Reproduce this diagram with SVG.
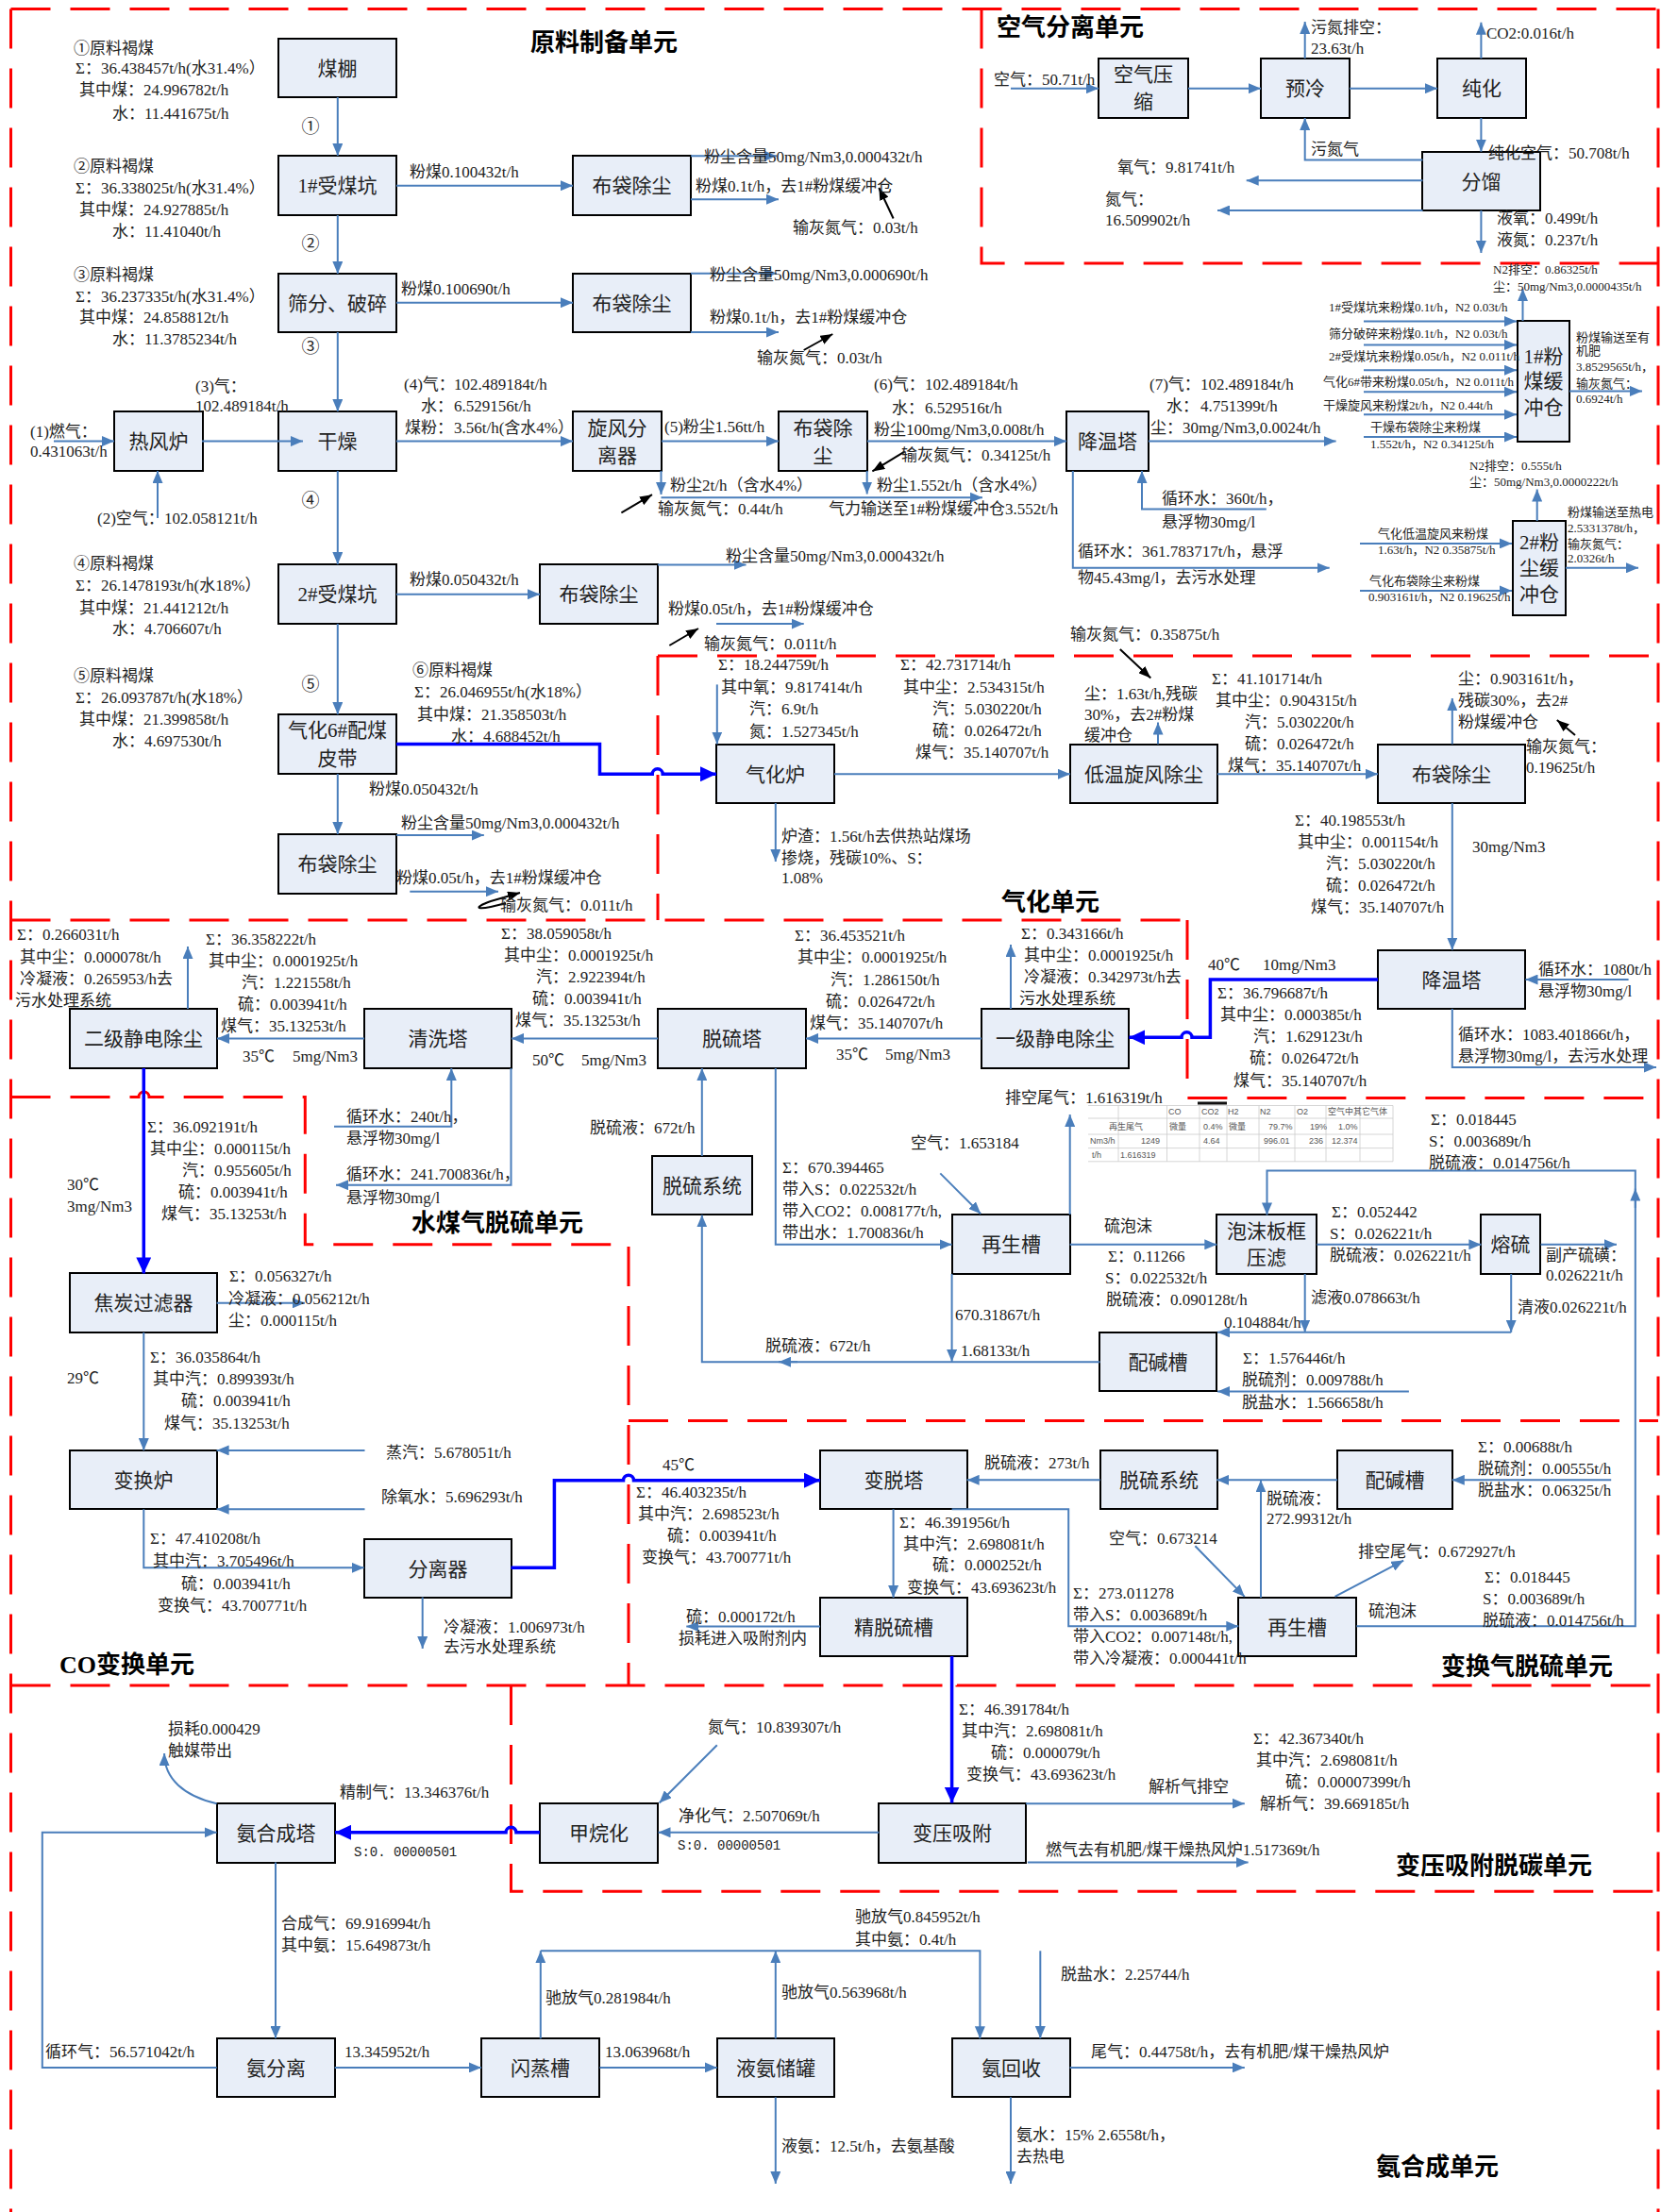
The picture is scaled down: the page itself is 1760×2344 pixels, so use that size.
<svg xmlns="http://www.w3.org/2000/svg" width="1760" height="2344" viewBox="0 0 1760 2344">
<style>
.t{font-family:"Liberation Serif","Noto Sans CJK SC",serif;font-size:17px;fill:#222}
.s{font-family:"Liberation Serif","Noto Sans CJK SC",serif;font-size:13px;fill:#222}
.m{font-family:"Liberation Mono","Noto Sans CJK SC",monospace;font-size:14px;fill:#222}
.bt{font-family:"Liberation Serif","Noto Sans CJK SC",serif;font-size:21px;fill:#222;text-anchor:middle}
.ttl{font-family:"Liberation Serif","Noto Sans CJK SC",serif;font-size:26px;font-weight:bold;fill:#000}
.c{font-family:"Noto Sans CJK SC",sans-serif;font-size:19px;fill:#222;text-anchor:middle}
.tb{font-family:"Liberation Sans","Noto Sans CJK SC",sans-serif;font-size:9px;fill:#555}
.box{fill:#E8EEF8;stroke:#000;stroke-width:2}
.ln{fill:none;stroke:#4A7EBB;stroke-width:2;marker-end:url(#a)}
.pl{fill:none;stroke:#4A7EBB;stroke-width:2}
.thk{fill:none;stroke:#0000FF;stroke-width:3.5;marker-end:url(#ab)}
.blk{fill:none;stroke:#000;stroke-width:2;marker-end:url(#ak)}
.red{fill:none;stroke:#FF0000;stroke-width:3;stroke-dasharray:42 21}
.grid{stroke:#ccc;stroke-width:0.8;fill:none}
</style>
<defs>
<marker id="a" markerUnits="userSpaceOnUse" markerWidth="13" markerHeight="11" refX="13" refY="5.5" orient="auto"><path d="M0,0 L13,5.5 L0,11 z" fill="#4A7EBB"/></marker>
<marker id="ab" markerUnits="userSpaceOnUse" markerWidth="17" markerHeight="16" refX="17" refY="8" orient="auto"><path d="M0,0 L17,8 L0,16 z" fill="#0000FF"/></marker>
<marker id="ak" markerUnits="userSpaceOnUse" markerWidth="13" markerHeight="10" refX="13" refY="5" orient="auto"><path d="M0,0 L13,5 L0,10 z" fill="#000"/></marker>
</defs>
<rect width="1760" height="2344" fill="#fff"/>

<g id="regions">
<path class="red" d="M11.5 9.6 H1757"/>
<path class="red" d="M11.5 9.6 V2344"/>
<path class="red" d="M1757 9.6 V2344"/>
<path class="red" d="M1040 9.6 V279 H1757"/>
<path class="red" d="M697 695 H1757"/>
<path class="red" d="M697 695 V975"/>
<path class="red" d="M11.5 975 H1258"/>
<path class="red" d="M1258 975 V1163.6 H1757"/>
<path class="red" d="M11.5 1162.4 H147 A5.5 5.5 0 0 1 158 1162.4 H323.3 V1318.8 H666 V1786"/>
<path class="red" d="M666 1505.5 H1757"/>
<path class="red" d="M11.5 1786 H1003 A5.5 5.5 0 0 1 1014 1786 H1757"/>
<path class="red" d="M541.5 1786 V2004.2 H1757"/>
<text class="ttl" x="562" y="54">原料制备单元</text>
<text class="ttl" x="1056" y="38">空气分离单元</text>
<text class="ttl" x="1061" y="965">气化单元</text>
<text class="ttl" x="436" y="1305">水煤气脱硫单元</text>
<text class="ttl" x="63" y="1773">CO变换单元</text>
<text class="ttl" x="1527" y="1775">变换气脱硫单元</text>
<text class="ttl" x="1479" y="1986">变压吸附脱碳单元</text>
<text class="ttl" x="1458" y="2305">氨合成单元</text>
</g>

<g id="n01"><rect class="box" x="295" y="41" width="125" height="62"/><text class="bt" x="357.5" y="79.5">煤棚</text></g>
<g id="n02"><rect class="box" x="295" y="165" width="125" height="63"/><text class="bt" x="357.5" y="204">1#受煤坑</text></g>
<g id="n03"><rect class="box" x="295" y="290" width="125" height="62"/><text class="bt" x="357.5" y="328.5">筛分、破碎</text></g>
<g id="n04"><rect class="box" x="295" y="436" width="125" height="63"/><text class="bt" x="357.5" y="475">干燥</text></g>
<g id="n05"><rect class="box" x="121" y="436" width="94" height="63"/><text class="bt" x="168" y="475">热风炉</text></g>
<g id="n06"><rect class="box" x="607" y="165" width="125" height="63"/><text class="bt" x="669.5" y="204">布袋除尘</text></g>
<g id="n07"><rect class="box" x="607" y="290" width="125" height="62"/><text class="bt" x="669.5" y="328.5">布袋除尘</text></g>
<g id="n08"><rect class="box" x="607" y="436" width="94" height="63"/><text class="bt" x="654" y="461">旋风分</text><text class="bt" x="654" y="489.6">离器</text></g>
<g id="n09"><rect class="box" x="825" y="436" width="94" height="63"/><text class="bt" x="872" y="461">布袋除</text><text class="bt" x="872" y="489.6">尘</text></g>
<g id="n10"><rect class="box" x="1130" y="436" width="87" height="63"/><text class="bt" x="1173.5" y="475">降温塔</text></g>
<g id="n11"><rect class="box" x="295" y="598" width="125" height="63"/><text class="bt" x="357.5" y="637">2#受煤坑</text></g>
<g id="n12"><rect class="box" x="295" y="757" width="125" height="63"/><text class="bt" x="357.5" y="780.7">气化6#配煤</text><text class="bt" x="357.5" y="811.4">皮带</text></g>
<g id="n13"><rect class="box" x="295" y="884" width="125" height="63"/><text class="bt" x="357.5" y="923">布袋除尘</text></g>
<g id="n14"><rect class="box" x="572" y="598" width="125" height="63"/><text class="bt" x="634.5" y="637">布袋除尘</text></g>
<g id="n15"><rect class="box" x="1608" y="340" width="55" height="128"/><text class="bt" x="1635.5" y="384.5">1#粉</text><text class="bt" x="1635.5" y="411.2">煤缓</text><text class="bt" x="1635.5" y="439.1">冲仓</text></g>
<g id="n16"><rect class="box" x="1603" y="552" width="56" height="100"/><text class="bt" x="1631" y="581.5">2#粉</text><text class="bt" x="1631" y="608.5">尘缓</text><text class="bt" x="1631" y="637">冲仓</text></g>
<g id="n17"><rect class="box" x="1164" y="62" width="95" height="63"/><text class="bt" x="1211.5" y="86">空气压</text><text class="bt" x="1211.5" y="114.6">缩</text></g>
<g id="n18"><rect class="box" x="1336" y="62" width="94" height="63"/><text class="bt" x="1383" y="101">预冷</text></g>
<g id="n19"><rect class="box" x="1523" y="62" width="94" height="63"/><text class="bt" x="1570" y="101">纯化</text></g>
<g id="n20"><rect class="box" x="1507" y="161" width="125" height="62"/><text class="bt" x="1569.5" y="199.5">分馏</text></g>
<g id="n21"><rect class="box" x="759" y="789" width="125" height="62"/><text class="bt" x="821.5" y="827.5">气化炉</text></g>
<g id="n22"><rect class="box" x="1134" y="789" width="156" height="62"/><text class="bt" x="1212" y="827.5">低温旋风除尘</text></g>
<g id="n23"><rect class="box" x="1460" y="789" width="156" height="62"/><text class="bt" x="1538" y="827.5">布袋除尘</text></g>
<g id="n24"><rect class="box" x="1460" y="1007" width="156" height="62"/><text class="bt" x="1538" y="1045.5">降温塔</text></g>
<g id="n25"><rect class="box" x="1040" y="1069" width="156" height="63"/><text class="bt" x="1118" y="1108">一级静电除尘</text></g>
<g id="n26"><rect class="box" x="697" y="1069" width="157" height="63"/><text class="bt" x="775.5" y="1108">脱硫塔</text></g>
<g id="n27"><rect class="box" x="386" y="1069" width="156" height="63"/><text class="bt" x="464" y="1108">清洗塔</text></g>
<g id="n28"><rect class="box" x="74" y="1069" width="156" height="63"/><text class="bt" x="152" y="1108">二级静电除尘</text></g>
<g id="n29"><rect class="box" x="691" y="1225" width="106" height="62"/><text class="bt" x="744" y="1263.5">脱硫系统</text></g>
<g id="n30"><rect class="box" x="1009" y="1287" width="125" height="63"/><text class="bt" x="1071.5" y="1326">再生槽</text></g>
<g id="n31"><rect class="box" x="1289" y="1287" width="106" height="63"/><text class="bt" x="1342" y="1312">泡沫板框</text><text class="bt" x="1342" y="1339.7">压滤</text></g>
<g id="n32"><rect class="box" x="1569" y="1287" width="63" height="63"/><text class="bt" x="1600.5" y="1326">熔硫</text></g>
<g id="n33"><rect class="box" x="1165" y="1412" width="124" height="62"/><text class="bt" x="1227" y="1450.5">配碱槽</text></g>
<g id="n34"><rect class="box" x="74" y="1349" width="156" height="63"/><text class="bt" x="152" y="1388">焦炭过滤器</text></g>
<g id="n35"><rect class="box" x="74" y="1537" width="156" height="62"/><text class="bt" x="152" y="1575.5">变换炉</text></g>
<g id="n36"><rect class="box" x="386" y="1631" width="156" height="62"/><text class="bt" x="464" y="1669.5">分离器</text></g>
<g id="n37"><rect class="box" x="869" y="1537" width="156" height="62"/><text class="bt" x="947" y="1575.5">变脱塔</text></g>
<g id="n38"><rect class="box" x="1166" y="1537" width="124" height="62"/><text class="bt" x="1228" y="1575.5">脱硫系统</text></g>
<g id="n39"><rect class="box" x="1417" y="1537" width="122" height="62"/><text class="bt" x="1478" y="1575.5">配碱槽</text></g>
<g id="n40"><rect class="box" x="869" y="1693" width="156" height="62"/><text class="bt" x="947" y="1731.5">精脱硫槽</text></g>
<g id="n41"><rect class="box" x="1312" y="1693" width="125" height="62"/><text class="bt" x="1374.5" y="1731.5">再生槽</text></g>
<g id="n42"><rect class="box" x="931" y="1911" width="156" height="63"/><text class="bt" x="1009" y="1950">变压吸附</text></g>
<g id="n43"><rect class="box" x="572" y="1911" width="125" height="63"/><text class="bt" x="634.5" y="1950">甲烷化</text></g>
<g id="n44"><rect class="box" x="230" y="1911" width="125" height="63"/><text class="bt" x="292.5" y="1950">氨合成塔</text></g>
<g id="n45"><rect class="box" x="230" y="2160" width="125" height="62"/><text class="bt" x="292.5" y="2198.5">氨分离</text></g>
<g id="n46"><rect class="box" x="510" y="2160" width="125" height="62"/><text class="bt" x="572.5" y="2198.5">闪蒸槽</text></g>
<g id="n47"><rect class="box" x="760" y="2160" width="124" height="62"/><text class="bt" x="822" y="2198.5">液氨储罐</text></g>
<g id="n48"><rect class="box" x="1009" y="2160" width="125" height="62"/><text class="bt" x="1071.5" y="2198.5">氨回收</text></g>

<g id="table">
<rect x="1153" y="1171.5" width="323" height="59.3" fill="#fff"/>
<rect x="1269" y="1167.5" width="31" height="3" fill="#111"/>
<path class="grid" d="M1153 1171.5 H1476 M1153 1185 H1476 M1153 1202 H1476 M1153 1216.6 H1476 M1153 1230.8 H1476 M1185 1171.5 V1230.8 M1236.5 1171.5 V1230.8 M1271 1171.5 V1230.8 M1300 1171.5 V1230.8 M1334 1171.5 V1230.8 M1372 1171.5 V1230.8 M1405 1171.5 V1230.8 M1441 1171.5 V1230.8 M1476 1171.5 V1230.8"/>
<text class="tb" x="1238" y="1181">CO</text><text class="tb" x="1273" y="1181">CO2</text><text class="tb" x="1301" y="1181">H2</text><text class="tb" x="1335" y="1181">N2</text><text class="tb" x="1374" y="1181">O2</text><text class="tb" x="1407" y="1181">空气中其它气体</text>
<text class="tb" x="1175" y="1197">再生尾气</text><text class="tb" x="1239" y="1197">微量</text><text class="tb" x="1275" y="1197">0.4%</text><text class="tb" x="1302" y="1197">微量</text><text class="tb" x="1344" y="1197">79.7%</text><text class="tb" x="1388" y="1197">19%</text><text class="tb" x="1418" y="1197">1.0%</text>
<text class="tb" x="1155" y="1212">Nm3/h</text><text class="tb" x="1209" y="1212">1249</text><text class="tb" x="1275" y="1212">4.64</text><text class="tb" x="1339" y="1212">996.01</text><text class="tb" x="1387" y="1212">236</text><text class="tb" x="1411" y="1212">12.374</text>
<text class="tb" x="1157" y="1227">t/h</text><text class="tb" x="1187" y="1227">1.616319</text>
</g>

<g id="connectors">
<path class="ln" d="M357.8 103 V165"/>
<path class="ln" d="M357.8 228 V290"/>
<path class="ln" d="M357.8 352 V436"/>
<path class="ln" d="M357.8 499 V598"/>
<path class="ln" d="M357.8 661 V757"/>
<path class="ln" d="M357.8 820 V884"/>
<path class="ln" d="M57 467.6 H121"/>
<path class="ln" d="M167 549 V499"/>
<path class="ln" d="M214 467.6 H321"/>
<path class="ln" d="M420 467.6 H607"/>
<path class="ln" d="M420 196.7 H607"/>
<path class="ln" d="M420 320.7 H607"/>
<path class="ln" d="M732 165.3 H823"/>
<path class="ln" d="M732 211.2 H825"/>
<path class="blk" d="M946.6 231.5 L931.3 199"/>
<path class="ln" d="M732 289.7 H823"/>
<path class="ln" d="M732 352 H825"/>
<path class="blk" d="M851.7 371 L882.3 354"/>
<path class="ln" d="M701 467.6 H825"/>
<path class="ln" d="M919 467.6 H1130"/>
<path class="blk" d="M958.8 478.3 L924.4 499.4"/>
<path class="ln" d="M700.5 499 V524"/>
<path class="ln" d="M700.5 527.3 H1041"/>
<path class="blk" d="M658.4 543.4 L691 524.2"/>
<path class="ln" d="M918.7 499 V523.5"/>
<path class="ln" d="M1217 467.6 H1415.6"/>
<path class="ln" d="M1341.8 539.5 H1210 V499"/>
<path class="ln" d="M1136.8 499 V601.8 H1408.7"/>
<path class="ln" d="M420 629.7 H572"/>
<path class="ln" d="M697 598.4 H790.5"/>
<path class="ln" d="M759 661.1 H851.7"/>
<path class="blk" d="M709.3 684 L740 666"/>
<path class="thk" d="M420 788.5 H635.5 V820.3 H691.2 A5.5 5.5 0 0 1 702.2 820.3 H759"/>
<path class="ln" d="M420 885 H512.8"/>
<path class="ln" d="M434.3 944.7 H528"/>
<path class="blk" d="M536 957 C 503 966, 500 962, 520 955 L551 946"/>
<path class="ln" d="M1071 93.7 H1164"/>
<path class="ln" d="M1259 93.7 H1336"/>
<path class="ln" d="M1430 93.7 H1523"/>
<path class="ln" d="M1382.7 62 V23"/>
<path class="ln" d="M1569.4 62 V23.7"/>
<path class="ln" d="M1569.4 125 V160.7"/>
<path class="ln" d="M1507.5 169.5 H1382.7 V125"/>
<path class="ln" d="M1507.5 191.3 H1320.7"/>
<path class="ln" d="M1507.5 223 H1290"/>
<path class="ln" d="M1569.4 223 V268"/>
<path class="ln" d="M1445 340.6 H1607"/>
<path class="ln" d="M1445 365.4 H1607"/>
<path class="ln" d="M1445 392.2 H1607"/>
<path class="ln" d="M1445 415.2 H1607"/>
<path class="ln" d="M1445 439.3 H1607"/>
<path class="ln" d="M1445 463 H1607"/>
<path class="ln" d="M1613.5 340 V306"/>
<path class="ln" d="M1663 414.4 H1740"/>
<path class="ln" d="M1441 575.9 H1602"/>
<path class="ln" d="M1441 625.9 H1602"/>
<path class="ln" d="M1628.7 552 V518.5"/>
<path class="ln" d="M1659 601.8 H1736"/>
<path class="ln" d="M759.8 725.4 V788.5"/>
<path class="ln" d="M884 820.3 H1134"/>
<path class="ln" d="M821.8 851 V913"/>
<path class="blk" d="M1186.8 687.9 L1219.3 718.5"/>
<path class="ln" d="M1227 788.5 V765.6"/>
<path class="ln" d="M1290 820.3 H1460"/>
<path class="ln" d="M1538.8 788.5 V740"/>
<path class="blk" d="M1669 779 L1649.8 762.9"/>
<path class="ln" d="M1538.8 851 V1006.7"/>
<path class="ln" d="M1725.6 1038 H1616.5"/>
<path class="ln" d="M1538.8 1069 V1131 H1755"/>
<path class="thk" d="M1460 1038 H1282.4 V1099.3 H1263 A5.5 5.5 0 0 0 1252 1099.3 H1196.4"/>
<path class="ln" d="M1071 1069 V1001"/>
<path class="ln" d="M1040 1100.4 H854"/>
<path class="ln" d="M697 1100.4 H542"/>
<path class="ln" d="M386 1100.4 H230"/>
<path class="ln" d="M199 1069 V1003"/>
<path class="thk" d="M152.3 1132 V1349.4"/>
<path class="ln" d="M354 1193.7 H478.3 V1132"/>
<path class="ln" d="M541.5 1132 V1255.7 H356"/>
<path class="ln" d="M743.8 1225 V1132"/>
<path class="ln" d="M821.8 1132 V1318.8 H1008.6"/>
<path class="ln" d="M996.3 1243.4 L1039.2 1286.3"/>
<path class="ln" d="M1133.7 1287 V1181"/>
<path class="ln" d="M1008.6 1350 V1443"/>
<path class="ln" d="M1165.5 1443.2 H743.8 V1287.4"/>
<path class="ln" d="M845 1443.2 H825"/>
<path class="ln" d="M1133.7 1318.8 H1289.3"/>
<path class="ln" d="M1395.3 1318.8 H1569.4"/>
<path class="ln" d="M1632.6 1318.8 H1713"/>
<path class="ln" d="M1601.2 1350 V1411.8"/>
<path class="ln" d="M1382.7 1350 V1411.8"/>
<path class="ln" d="M1601.2 1411.8 H1290"/>
<path class="ln" d="M1492.9 1474.5 H1290"/>
<path class="ln" d="M1437.4 1723.3 H1732.8 V1240.4 H1342.5 V1287.4"/>
<path class="ln" d="M1732.8 1280 V1259.5"/>
<path class="ln" d="M229.6 1380.8 H323"/>
<path class="ln" d="M152.3 1412 V1537"/>
<path class="ln" d="M386.5 1536.9 H229.6"/>
<path class="ln" d="M386.5 1599.3 H229.6"/>
<path class="ln" d="M152.3 1599.3 V1661.3 H385.7"/>
<path class="ln" d="M447.7 1692.6 V1747"/>
<path class="thk" d="M541.5 1661.3 H587.4 V1568.7 H660.5 A5.5 5.5 0 0 1 671.5 1568.7 H869"/>
<path class="ln" d="M1165.7 1568.3 H1024.6"/>
<path class="ln" d="M1417 1568.3 H1289.3"/>
<path class="ln" d="M1707.2 1568.3 H1538.8"/>
<path class="ln" d="M1336 1693 V1568.3"/>
<path class="ln" d="M1266.4 1638.3 L1318.8 1691.9"/>
<path class="ln" d="M1414.5 1691.9 L1487.2 1653.6"/>
<path class="ln" d="M946.6 1599.3 V1693"/>
<path class="ln" d="M1008.6 1599.3 H1132.2 V1723.3 H1312.3"/>
<path class="ln" d="M869 1723.6 H727.3"/>
<path class="thk" d="M1008.6 1755 V1910.5"/>
<path class="ln" d="M931.3 1941.8 H697.5"/>
<path class="ln" d="M759.8 1849.2 L698.6 1910.5"/>
<path class="ln" d="M1087 1911.2 H1318.8"/>
<path class="ln" d="M1088.9 1973.6 H1322.6"/>
<path class="thk" d="M572 1941.8 H547 A5.5 5.5 0 0 0 536 1941.8 H355"/>
<path class="ln" d="M229.6 1911.2 C 195 1903, 174 1885, 174.1 1858"/>
<path class="ln" d="M292 1973.6 V2160"/>
<path class="ln" d="M229.6 2190.9 H44.8 V1941.8 H229.6"/>
<path class="ln" d="M354.7 2190.9 H510"/>
<path class="ln" d="M572.8 2160.3 V2067.3"/>
<path class="ln" d="M821.8 2160.3 V2067.3"/>
<path class="ln" d="M572.8 2067.3 H1038.4 V2160.3"/>
<path class="ln" d="M635.5 2190.9 H759.8"/>
<path class="ln" d="M821.8 2222.3 V2314"/>
<path class="ln" d="M1102.3 2067.3 V2160"/>
<path class="ln" d="M1133.7 2190.9 H1318.8"/>
<path class="ln" d="M1071 2222.3 V2314"/>
</g>

<g id="labels">
<text class="t" x="78" y="57">①原料褐煤</text>
<text class="t" x="80" y="78">Σ：36.438457t/h(水31.4%）</text>
<text class="t" x="84" y="101">其中煤：24.996782t/h</text>
<text class="t" x="119" y="126">水：11.441675t/h</text>
<text class="c" x="329" y="141">①</text>
<text class="t" x="78" y="182">②原料褐煤</text>
<text class="t" x="80" y="205">Σ：36.338025t/h(水31.4%）</text>
<text class="t" x="84" y="228">其中煤：24.927885t/h</text>
<text class="t" x="119" y="251">水：11.41040t/h</text>
<text class="c" x="329" y="265">②</text>
<text class="t" x="78" y="297">③原料褐煤</text>
<text class="t" x="80" y="320">Σ：36.237335t/h(水31.4%）</text>
<text class="t" x="84" y="342">其中煤：24.858812t/h</text>
<text class="t" x="119" y="365">水：11.3785234t/h</text>
<text class="c" x="329" y="374">③</text>
<text class="t" x="207" y="415">(3)气：</text>
<text class="t" x="207" y="436">102.489184t/h</text>
<text class="t" x="32" y="463">(1)燃气：</text>
<text class="t" x="32" y="484">0.431063t/h</text>
<text class="t" x="103" y="555">(2)空气：</text>
<text class="t" x="174" y="555">102.058121t/h</text>
<text class="t" x="428" y="413">(4)气：</text>
<text class="t" x="481" y="413">102.489184t/h</text>
<text class="t" x="446" y="436">水：</text>
<text class="t" x="481" y="436">6.529156t/h</text>
<text class="t" x="429" y="459">煤粉：</text>
<text class="t" x="481" y="459">3.56t/h(含水4%）</text>
<text class="c" x="329" y="537">④</text>
<text class="t" x="434" y="188">粉煤0.100432t/h</text>
<text class="t" x="425" y="312">粉煤0.100690t/h</text>
<text class="t" x="746" y="172">粉尘含量50mg/Nm3,0.000432t/h</text>
<text class="t" x="737" y="203">粉煤0.1t/h，去1#粉煤缓冲仓</text>
<text class="t" x="840" y="247">输灰氮气：0.03t/h</text>
<text class="t" x="752" y="297">粉尘含量50mg/Nm3,0.000690t/h</text>
<text class="t" x="752" y="342">粉煤0.1t/h，去1#粉煤缓冲仓</text>
<text class="t" x="802" y="385">输灰氮气：0.03t/h</text>
<text class="t" x="926" y="413">(6)气：</text>
<text class="t" x="980" y="413">102.489184t/h</text>
<text class="t" x="945" y="438">水：</text>
<text class="t" x="980" y="438">6.529516t/h</text>
<text class="t" x="926" y="461">粉尘100mg/Nm3,0.008t/h</text>
<text class="t" x="955" y="488">输灰氮气：0.34125t/h</text>
<text class="t" x="704" y="458">(5)粉尘1.56tt/h</text>
<text class="t" x="710" y="520">粉尘2t/h（含水4%）</text>
<text class="t" x="697" y="545">输灰氮气：0.44t/h</text>
<text class="t" x="929" y="520">粉尘1.552t/h（含水4%）</text>
<text class="t" x="878" y="545">气力输送至1#粉煤缓冲仓3.552t/h</text>
<text class="t" x="1218" y="413">(7)气：</text>
<text class="t" x="1272" y="413">102.489184t/h</text>
<text class="t" x="1236" y="436">水：</text>
<text class="t" x="1272" y="436">4.751399t/h</text>
<text class="t" x="1219" y="459">尘：30mg/Nm3,0.0024t/h</text>
<text class="t" x="1231" y="534">循环水：360t/h，</text>
<text class="t" x="1231" y="559">悬浮物30mg/l</text>
<text class="t" x="1142" y="590">循环水：361.783717t/h，悬浮</text>
<text class="t" x="1142" y="618">物45.43mg/l，去污水处理</text>
<text class="s" x="1582" y="290">N2排空：0.86325t/h</text>
<text class="s" x="1582" y="308">尘：50mg/Nm3,0.0000435t/h</text>
<text class="s" x="1408" y="330">1#受煤坑来粉煤0.1t/h，N2 0.03t/h</text>
<text class="s" x="1408" y="358">筛分破碎来粉煤0.1t/h，N2 0.03t/h</text>
<text class="s" x="1408" y="382">2#受煤坑来粉煤0.05t/h，N2 0.011t/h</text>
<text class="s" x="1402" y="409">气化6#带来粉煤0.05t/h，N2 0.011t/h</text>
<text class="s" x="1402" y="434">干燥旋风来粉煤2t/h，N2 0.44t/h</text>
<text class="s" x="1452" y="457">干燥布袋除尘来粉煤</text>
<text class="s" x="1452" y="475">1.552t/h，N2 0.34125t/h</text>
<text class="s" x="1670" y="362">粉煤输送至有</text>
<text class="s" x="1670" y="376">机肥</text>
<text class="s" x="1670" y="393">3.8529565t/h，</text>
<text class="s" x="1670" y="411">输灰氮气：</text>
<text class="s" x="1670" y="427">0.6924t/h</text>
<text class="s" x="1557" y="498">N2排空：0.555t/h</text>
<text class="s" x="1557" y="515">尘：50mg/Nm3,0.0000222t/h</text>
<text class="s" x="1460" y="570">气化低温旋风来粉煤</text>
<text class="s" x="1460" y="587">1.63t/h，N2 0.35875t/h</text>
<text class="s" x="1451" y="620">气化布袋除尘来粉煤</text>
<text class="s" x="1450" y="637">0.903161t/h，N2 0.19625t/h</text>
<text class="s" x="1661" y="547">粉煤输送至热电</text>
<text class="s" x="1661" y="564">2.5331378t/h，</text>
<text class="s" x="1661" y="581">输灰氮气：</text>
<text class="s" x="1661" y="596">2.0326t/h</text>
<text class="t" x="1053" y="90">空气：50.71t/h</text>
<text class="t" x="1389" y="35">污氮排空：</text>
<text class="t" x="1389" y="57">23.63t/h</text>
<text class="t" x="1575" y="41">CO2:0.016t/h</text>
<text class="t" x="1577" y="168">纯化空气：50.708t/h</text>
<text class="t" x="1389" y="164">污氮气</text>
<text class="t" x="1184" y="183">氧气：9.81741t/h</text>
<text class="t" x="1171" y="217">氮气：</text>
<text class="t" x="1171" y="239">16.509902t/h</text>
<text class="t" x="1586" y="237">液氧：0.499t/h</text>
<text class="t" x="1586" y="260">液氮：0.237t/h</text>
<text class="t" x="78" y="603">④原料褐煤</text>
<text class="t" x="80" y="626">Σ：26.1478193t/h(水18%）</text>
<text class="t" x="84" y="650">其中煤：21.441212t/h</text>
<text class="t" x="119" y="672">水：4.706607t/h</text>
<text class="t" x="78" y="722">⑤原料褐煤</text>
<text class="t" x="80" y="745">Σ：26.093787t/h(水18%）</text>
<text class="t" x="84" y="768">其中煤：21.399858t/h</text>
<text class="t" x="119" y="791">水：4.697530t/h</text>
<text class="c" x="329" y="732">⑤</text>
<text class="t" x="434" y="620">粉煤0.050432t/h</text>
<text class="t" x="437" y="716">⑥原料褐煤</text>
<text class="t" x="439" y="739">Σ：26.046955t/h(水18%）</text>
<text class="t" x="442" y="763">其中煤：21.358503t/h</text>
<text class="t" x="478" y="786">水：4.688452t/h</text>
<text class="t" x="391" y="842">粉煤0.050432t/h</text>
<text class="t" x="425" y="878">粉尘含量50mg/Nm3,0.000432t/h</text>
<text class="t" x="420" y="936">粉煤0.05t/h，去1#粉煤缓冲仓</text>
<text class="t" x="530" y="965">输灰氮气：0.011t/h</text>
<text class="t" x="769" y="595">粉尘含量50mg/Nm3,0.000432t/h</text>
<text class="t" x="708" y="651">粉煤0.05t/h，去1#粉煤缓冲仓</text>
<text class="t" x="746" y="688">输灰氮气：0.011t/h</text>
<text class="t" x="761" y="710">Σ：18.244759t/h</text>
<text class="t" x="764" y="734">其中氧：9.817414t/h</text>
<text class="t" x="794" y="757">汽：6.9t/h</text>
<text class="t" x="794" y="781">氮：1.527345t/h</text>
<text class="t" x="954" y="710">Σ：42.731714t/h</text>
<text class="t" x="957" y="734">其中尘：2.534315t/h</text>
<text class="t" x="988" y="757">汽：5.030220t/h</text>
<text class="t" x="988" y="780">硫：0.026472t/h</text>
<text class="t" x="970" y="803">煤气：35.140707t/h</text>
<text class="t" x="828" y="892">炉渣：1.56t/h去供热站煤场</text>
<text class="t" x="828" y="915">掺烧，残碳10%、S：</text>
<text class="t" x="828" y="936">1.08%</text>
<text class="t" x="1134" y="678">输灰氮气：0.35875t/h</text>
<text class="t" x="1149" y="741">尘：1.63t/h,残碳</text>
<text class="t" x="1149" y="763">30%，去2#粉煤</text>
<text class="t" x="1149" y="785">缓冲仓</text>
<text class="t" x="1284" y="725">Σ：41.101714t/h</text>
<text class="t" x="1288" y="748">其中尘：0.904315t/h</text>
<text class="t" x="1319" y="771">汽：5.030220t/h</text>
<text class="t" x="1319" y="794">硫：0.026472t/h</text>
<text class="t" x="1301" y="817">煤气：35.140707t/h</text>
<text class="t" x="1545" y="725">尘：0.903161t/h，</text>
<text class="t" x="1545" y="748">残碳30%，去2#</text>
<text class="t" x="1545" y="771">粉煤缓冲仓</text>
<text class="t" x="1617" y="797">输灰氮气：</text>
<text class="t" x="1617" y="819">0.19625t/h</text>
<text class="t" x="1372" y="875">Σ：40.198553t/h</text>
<text class="t" x="1375" y="898">其中尘：0.001154t/h</text>
<text class="t" x="1405" y="921">汽：5.030220t/h</text>
<text class="t" x="1405" y="944">硫：0.026472t/h</text>
<text class="t" x="1389" y="967">煤气：35.140707t/h</text>
<text class="t" x="1560" y="903">30mg/Nm3</text>
<text class="t" x="1630" y="1033">循环水：1080t/h</text>
<text class="t" x="1630" y="1056">悬浮物30mg/l</text>
<text class="t" x="1545" y="1102">循环水：1083.401866t/h，</text>
<text class="t" x="1545" y="1125">悬浮物30mg/l，去污水处理</text>
<text class="t" x="1280" y="1028">40℃</text>
<text class="t" x="1338" y="1028">10mg/Nm3</text>
<text class="t" x="1290" y="1058">Σ：36.796687t/h</text>
<text class="t" x="1293" y="1081">其中尘：0.000385t/h</text>
<text class="t" x="1328" y="1104">汽：1.629123t/h</text>
<text class="t" x="1324" y="1127">硫：0.026472t/h</text>
<text class="t" x="1307" y="1151">煤气：35.140707t/h</text>
<text class="t" x="1065" y="1169">排空尾气：1.616319t/h</text>
<text class="t" x="1082" y="995">Σ：0.343166t/h</text>
<text class="t" x="1085" y="1018">其中尘：0.0001925t/h</text>
<text class="t" x="1085" y="1041">冷凝液：0.342973t/h去</text>
<text class="t" x="1080" y="1064">污水处理系统</text>
<text class="t" x="842" y="997">Σ：36.453521t/h</text>
<text class="t" x="845" y="1020">其中尘：0.0001925t/h</text>
<text class="t" x="880" y="1044">汽：1.286150t/h</text>
<text class="t" x="875" y="1067">硫：0.026472t/h</text>
<text class="t" x="858" y="1090">煤气：35.140707t/h</text>
<text class="t" x="886" y="1123">35℃</text>
<text class="t" x="938" y="1123">5mg/Nm3</text>
<text class="t" x="531" y="995">Σ：38.059058t/h</text>
<text class="t" x="534" y="1018">其中尘：0.0001925t/h</text>
<text class="t" x="568" y="1041">汽：2.922394t/h</text>
<text class="t" x="564" y="1064">硫：0.003941t/h</text>
<text class="t" x="546" y="1087">煤气：35.13253t/h</text>
<text class="t" x="564" y="1129">50℃</text>
<text class="t" x="616" y="1129">5mg/Nm3</text>
<text class="t" x="218" y="1001">Σ：36.358222t/h</text>
<text class="t" x="221" y="1024">其中尘：0.0001925t/h</text>
<text class="t" x="256" y="1047">汽：1.221558t/h</text>
<text class="t" x="252" y="1070">硫：0.003941t/h</text>
<text class="t" x="234" y="1093">煤气：35.13253t/h</text>
<text class="t" x="257" y="1125">35℃</text>
<text class="t" x="310" y="1125">5mg/Nm3</text>
<text class="t" x="18" y="996">Σ：0.266031t/h</text>
<text class="t" x="21" y="1020">其中尘：0.000078t/h</text>
<text class="t" x="21" y="1043">冷凝液：0.265953/h去</text>
<text class="t" x="16" y="1066">污水处理系统</text>
<text class="t" x="367" y="1189">循环水：240t/h，</text>
<text class="t" x="367" y="1212">悬浮物30mg/l</text>
<text class="t" x="367" y="1250">循环水：241.700836t/h，</text>
<text class="t" x="367" y="1275">悬浮物30mg/l</text>
<text class="t" x="625" y="1201">脱硫液：672t/h</text>
<text class="t" x="829" y="1243">Σ：670.394465</text>
<text class="t" x="829" y="1266">带入S：0.022532t/h</text>
<text class="t" x="829" y="1289">带入CO2：0.008177t/h,</text>
<text class="t" x="829" y="1312">带出水：1.700836t/h</text>
<text class="t" x="965" y="1217">空气：1.653184</text>
<text class="t" x="1012" y="1399">670.31867t/h</text>
<text class="t" x="1018" y="1437">1.68133t/h</text>
<text class="t" x="811" y="1432">脱硫液：672t/h</text>
<text class="t" x="1170" y="1305">硫泡沫</text>
<text class="t" x="1174" y="1337">Σ：0.11266</text>
<text class="t" x="1171" y="1360">S：0.022532t/h</text>
<text class="t" x="1172" y="1383">脱硫液：0.090128t/h</text>
<text class="t" x="1411" y="1290">Σ：0.052442</text>
<text class="t" x="1409" y="1313">S：0.026221t/h</text>
<text class="t" x="1409" y="1336">脱硫液：0.026221t/h</text>
<text class="t" x="1638" y="1336">副产硫磺：</text>
<text class="t" x="1638" y="1357">0.026221t/h</text>
<text class="t" x="1608" y="1391">清液0.026221t/h</text>
<text class="t" x="1389" y="1381">滤液0.078663t/h</text>
<text class="t" x="1297" y="1407">0.104884t/h</text>
<text class="t" x="1317" y="1445">Σ：1.576446t/h</text>
<text class="t" x="1316" y="1468">脱硫剂：0.009788t/h</text>
<text class="t" x="1316" y="1492">脱盐水：1.566658t/h</text>
<text class="t" x="1516" y="1192">Σ：0.018445</text>
<text class="t" x="1514" y="1215">S：0.003689t/h</text>
<text class="t" x="1514" y="1238">脱硫液：0.014756t/h</text>
<text class="t" x="156" y="1200">Σ：36.092191t/h</text>
<text class="t" x="159" y="1223">其中尘：0.000115t/h</text>
<text class="t" x="193" y="1246">汽：0.955605t/h</text>
<text class="t" x="189" y="1269">硫：0.003941t/h</text>
<text class="t" x="171" y="1292">煤气：35.13253t/h</text>
<text class="t" x="71" y="1261">30℃</text>
<text class="t" x="71" y="1284">3mg/Nm3</text>
<text class="t" x="243" y="1358">Σ：0.056327t/h</text>
<text class="t" x="242" y="1382">冷凝液：0.056212t/h</text>
<text class="t" x="242" y="1405">尘：0.000115t/h</text>
<text class="t" x="159" y="1444">Σ：36.035864t/h</text>
<text class="t" x="162" y="1467">其中汽：0.899393t/h</text>
<text class="t" x="192" y="1490">硫：0.003941t/h</text>
<text class="t" x="174" y="1514">煤气：35.13253t/h</text>
<text class="t" x="71" y="1466">29℃</text>
<text class="t" x="409" y="1545">蒸汽：5.678051t/h</text>
<text class="t" x="404" y="1592">除氧水：5.696293t/h</text>
<text class="t" x="159" y="1636">Σ：47.410208t/h</text>
<text class="t" x="162" y="1660">其中汽：3.705496t/h</text>
<text class="t" x="192" y="1684">硫：0.003941t/h</text>
<text class="t" x="167" y="1707">变换气：43.700771t/h</text>
<text class="t" x="470" y="1730">冷凝液：1.006973t/h</text>
<text class="t" x="470" y="1751">去污水处理系统</text>
<text class="t" x="702" y="1558">45℃</text>
<text class="t" x="674" y="1587">Σ：46.403235t/h</text>
<text class="t" x="676" y="1610">其中汽：2.698523t/h</text>
<text class="t" x="707" y="1633">硫：0.003941t/h</text>
<text class="t" x="680" y="1656">变换气：43.700771t/h</text>
<text class="t" x="1043" y="1556">脱硫液：273t/h</text>
<text class="t" x="953" y="1619">Σ：46.391956t/h</text>
<text class="t" x="957" y="1642">其中汽：2.698081t/h</text>
<text class="t" x="988" y="1664">硫：0.000252t/h</text>
<text class="t" x="961" y="1688">变换气：43.693623t/h</text>
<text class="t" x="727" y="1719">硫：0.000172t/h</text>
<text class="t" x="719" y="1742">损耗进入吸附剂内</text>
<text class="t" x="1137" y="1694">Σ：273.011278</text>
<text class="t" x="1137" y="1717">带入S：0.003689t/h</text>
<text class="t" x="1137" y="1740">带入CO2：0.007148t/h,</text>
<text class="t" x="1137" y="1763">带入冷凝液：0.000441t/h</text>
<text class="t" x="1566" y="1539">Σ：0.00688t/h</text>
<text class="t" x="1566" y="1562">脱硫剂：0.00555t/h</text>
<text class="t" x="1566" y="1585">脱盐水：0.06325t/h</text>
<text class="t" x="1342" y="1594">脱硫液：</text>
<text class="t" x="1342" y="1615">272.99312t/h</text>
<text class="t" x="1175" y="1636">空气：0.673214</text>
<text class="t" x="1439" y="1650">排空尾气：0.672927t/h</text>
<text class="t" x="1450" y="1713">硫泡沫</text>
<text class="t" x="1573" y="1677">Σ：0.018445</text>
<text class="t" x="1571" y="1700">S：0.003689t/h</text>
<text class="t" x="1571" y="1723">脱硫液：0.014756t/h</text>
<text class="t" x="1016" y="1817">Σ：46.391784t/h</text>
<text class="t" x="1019" y="1840">其中汽：2.698081t/h</text>
<text class="t" x="1050" y="1863">硫：0.000079t/h</text>
<text class="t" x="1024" y="1886">变换气：43.693623t/h</text>
<text class="t" x="750" y="1836">氮气：10.839307t/h</text>
<text class="t" x="719" y="1930">净化气：2.507069t/h</text>
<text class="m" x="718" y="1960">S:0. 00000501</text>
<text class="t" x="1217" y="1899">解析气排空</text>
<text class="t" x="1328" y="1848">Σ：42.367340t/h</text>
<text class="t" x="1331" y="1871">其中汽：2.698081t/h</text>
<text class="t" x="1362" y="1894">硫：0.00007399t/h</text>
<text class="t" x="1335" y="1917">解析气：39.669185t/h</text>
<text class="t" x="1108" y="1966">燃气去有机肥/煤干燥热风炉1.517369t/h</text>
<text class="t" x="178" y="1838">损耗0.000429</text>
<text class="t" x="178" y="1861">触媒带出</text>
<text class="t" x="360" y="1905">精制气：13.346376t/h</text>
<text class="m" x="375" y="1967">S:0. 00000501</text>
<text class="t" x="298" y="2044">合成气：69.916994t/h</text>
<text class="t" x="298" y="2067">其中氨：15.649873t/h</text>
<text class="t" x="48" y="2180">循环气：56.571042t/h</text>
<text class="t" x="365" y="2180">13.345952t/h</text>
<text class="t" x="578" y="2123">驰放气0.281984t/h</text>
<text class="t" x="641" y="2180">13.063968t/h</text>
<text class="t" x="828" y="2117">驰放气0.563968t/h</text>
<text class="t" x="906" y="2037">驰放气0.845952t/h</text>
<text class="t" x="906" y="2061">其中氨：0.4t/h</text>
<text class="t" x="1124" y="2098">脱盐水：2.25744/h</text>
<text class="t" x="1156" y="2180">尾气：0.44758t/h，去有机肥/煤干燥热风炉</text>
<text class="t" x="828" y="2280">液氨：12.5t/h，去氨基酸</text>
<text class="t" x="1077" y="2268">氨水：15%  2.6558t/h，</text>
<text class="t" x="1077" y="2291">去热电</text>
</g>
</svg>
